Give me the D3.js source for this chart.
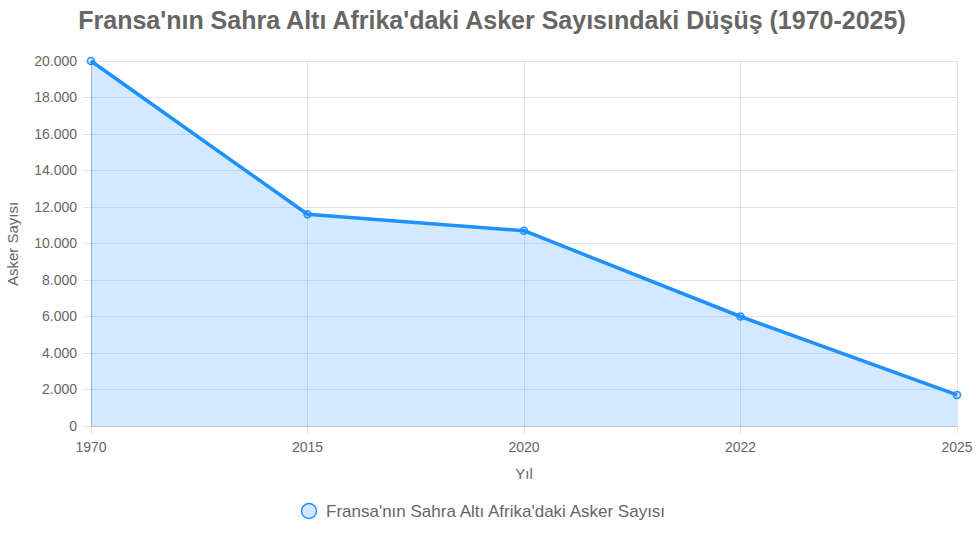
<!DOCTYPE html>
<html><head><meta charset="utf-8">
<script src="https://cdn.jsdelivr.net/npm/d3@7"></script>
<style>
body{margin:0;background:#fff;}
svg{display:block;font-family:"Liberation Sans",Arial,Helvetica,sans-serif;}
</style></head>
<body>
<svg id="c" width="978" height="533"></svg>
<script>
const categories = ["1970","2015","2020","2022","2025"];
const values = [20000, 11600, 10700, 6000, 1700];
const yTicks = [0,2000,4000,6000,8000,10000,12000,14000,16000,18000,20000];
const title = "Fransa'nın Sahra Altı Afrika'daki Asker Sayısındaki Düşüş (1970-2025)";
const seriesName = "Fransa'nın Sahra Altı Afrika'daki Asker Sayısı";
const xTitle = "Yıl";
const yTitle = "Asker Sayısı";

const svg = d3.select("#c");
const L = 91, R = 957, T = 61, B = 426;
const x = d3.scalePoint().domain(categories).range([L, R]);
const y = d3.scaleLinear().domain([0, 20000]).range([B, T]);
const fmt = v => d3.format(",")(v).replace(/,/g, ".");
const grid = "rgba(0,0,0,0.1)";

// grid lines
svg.append("g").selectAll("line").data(yTicks).join("line")
  .attr("x1", L - 8).attr("x2", R).attr("y1", d => y(d)).attr("y2", d => y(d))
  .attr("stroke", grid).attr("stroke-width", 1).attr("shape-rendering","crispEdges");
svg.append("g").selectAll("line").data(categories).join("line")
  .attr("x1", d => x(d)).attr("x2", d => x(d)).attr("y1", T).attr("y2", B + 8)
  .attr("stroke", grid).attr("stroke-width", 1).attr("shape-rendering","crispEdges");

// area
const area = d3.area().x((d,i) => x(categories[i])).y0(y(0)).y1(d => y(d));
svg.append("path").datum(values).attr("d", area).attr("fill", "rgba(30,144,255,0.2)");
const line = d3.line().x((d,i) => x(categories[i])).y(d => y(d));
svg.append("path").datum(values).attr("d", line).attr("fill", "none")
  .attr("stroke", "#1e90ff").attr("stroke-width", 3.5).attr("stroke-linejoin","round");

// points
svg.append("g").selectAll("circle").data(values).join("circle")
  .attr("cx", (d,i) => x(categories[i])).attr("cy", d => y(d)).attr("r", 3.5)
  .attr("fill", "rgba(30,144,255,0.2)").attr("stroke", "#1e90ff").attr("stroke-width", 1.5);

// axis borders
svg.append("line").attr("x1", L).attr("x2", L).attr("y1", T).attr("y2", B)
  .attr("stroke", "rgba(0,0,0,0.15)").attr("shape-rendering","crispEdges");
svg.append("line").attr("x1", L).attr("x2", R).attr("y1", B).attr("y2", B)
  .attr("stroke", "rgba(0,0,0,0.15)").attr("shape-rendering","crispEdges");

// tick labels
svg.append("g").selectAll("text").data(yTicks).join("text")
  .attr("x", L - 14).attr("y", d => y(d)).attr("dy", "0.35em")
  .attr("text-anchor", "end").attr("fill", "#666").attr("font-size", 14)
  .text(d => fmt(d));
svg.append("g").selectAll("text").data(categories).join("text")
  .attr("x", d => x(d)).attr("y", B + 21).attr("dy", "0.35em")
  .attr("text-anchor", "middle").attr("fill", "#666").attr("font-size", 14)
  .text(d => d);

// axis titles
svg.append("text").attr("x", 524).attr("y", 474).attr("dy","0.35em")
  .attr("text-anchor","middle").attr("fill","#666").attr("font-size",15).text(xTitle);
svg.append("text").attr("transform","translate(13,244) rotate(-90)").attr("dy","0.35em")
  .attr("text-anchor","middle").attr("fill","#666").attr("font-size",15).text(yTitle);

// title
svg.append("text").attr("x", 492).attr("y", 20).attr("dy","0.35em")
  .attr("text-anchor","middle").attr("fill","#666").attr("font-size",25)
  .attr("font-weight","bold").text(title);

// legend
svg.append("circle").attr("cx", 309).attr("cy", 511).attr("r", 7.5)
  .attr("fill","rgba(30,144,255,0.2)").attr("stroke","#1e90ff").attr("stroke-width",1.5);
svg.append("text").attr("x", 326).attr("y", 511).attr("dy","0.35em")
  .attr("fill","#666").attr("font-size",17).text(seriesName);
</script>
</body></html>
